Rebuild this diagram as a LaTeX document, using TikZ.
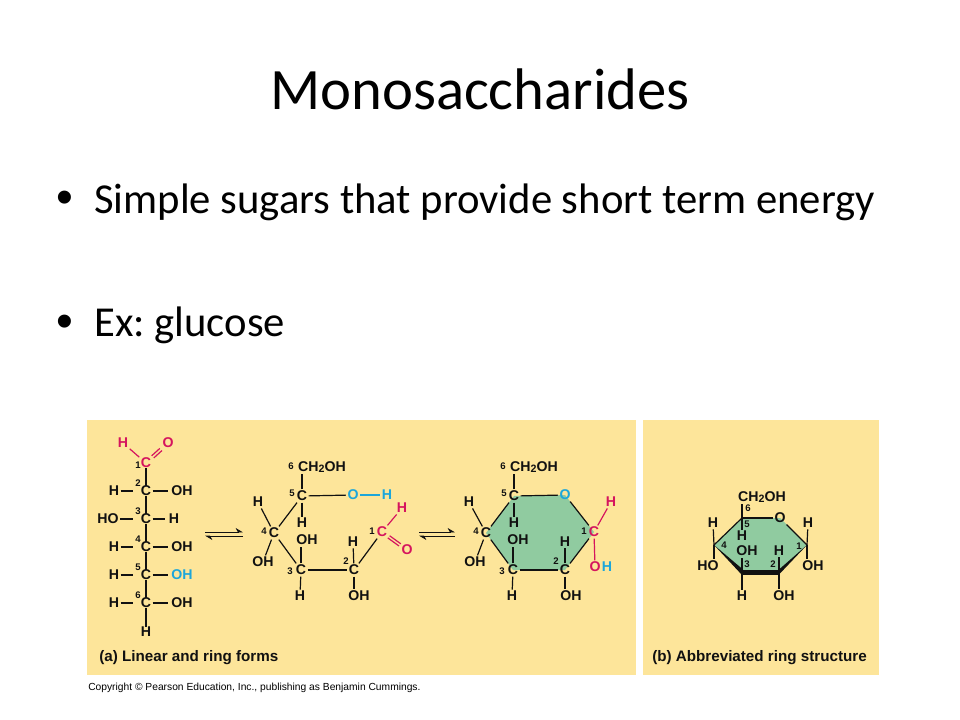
\documentclass[tikz,border=0pt]{standalone}
\usepackage{fontspec}
\setmainfont{Carlito}
\newfontfamily\chemfont{Liberation Sans}
\usetikzlibrary{arrows.meta,calc}
\definecolor{panelcol}{HTML}{FDE59A}
\definecolor{ringcol}{HTML}{90CBA0}
\definecolor{redcol}{HTML}{D5145E}
\definecolor{bluecol}{HTML}{1CA6DA}
\definecolor{inkcol}{HTML}{111111}
\newcommand{\At}[4]{\node[atom] (#1) at (#2,#3) {#4};}
\newcommand{\Nm}[4]{\node[numlab] (#1) at (#2,#3) {#4};}
\newcommand{\subn}[1]{\raisebox{-0.25ex}{\footnotesize #1}}
\tikzset{
  x=0.75pt,y=-0.75pt,
  atom/.style={font=\chemfont\bfseries\fontsize{10.6}{11}\selectfont,text=inkcol,inner sep=1pt},
  numlab/.style={font=\chemfont\bfseries\fontsize{7.2}{8}\selectfont,text=inkcol,inner sep=0pt},
  bond/.style={draw=inkcol,line width=0.9pt},
  redbond/.style={draw=redcol,line width=0.9pt},
  bluebond/.style={draw=bluecol,line width=0.9pt},
  panel/.style={fill=panelcol,draw=none},
  ringfill/.style={fill=ringcol,draw=none},
  titletext/.style={font=\fontsize{44}{48}\selectfont,text=black,inner sep=0,anchor=base},
  bodytext/.style={font=\fontsize{32}{36}\selectfont,text=black,inner sep=0,anchor=base west},
  bullettext/.style={font=\chemfont\fontsize{36}{40}\selectfont,text=black,inner sep=0,anchor=base west},
  caption/.style={font=\chemfont\bfseries\fontsize{11.4}{13}\selectfont,text=inkcol,inner sep=0,anchor=base west},
  copytext/.style={font=\chemfont\fontsize{7.7}{9}\selectfont,text=black,inner sep=0,anchor=base west},
  eq/.style={draw=inkcol,line width=0.6pt},
  eqtop/.style={eq,-{Stealth[harpoon,length=5pt,width=6pt]}},
  eqbot/.style={eq,-{Stealth[harpoon,length=5pt,width=6pt]}},
}
\begin{document}
\frenchspacing
\begin{tikzpicture}
\useasboundingbox (0,0) rectangle (960,720);
\fill[white] (0,0) rectangle (960,720);
\node[titletext] (title) at (480,110) {Monosaccharides};
\node[bullettext] (b1) at (56,214) {•};
\node[bodytext] (t1) at (94,214) {Simple sugars that provide short term energy};
\node[bullettext] (b2) at (56,337) {•};
\node[bodytext] (t2) at (94,336) {Ex: glucose};
\fill[panel] (87,420) rectangle (636,675);
\fill[panel] (643,420) rectangle (879,675);

% linear form
\node[atom,text=redcol] (aH) at (123,443) {H};
\node[atom,text=redcol] (aO) at (168,443) {O};
\node[atom,text=redcol] (a1) at (146,463) {C};
\At{a2}{146}{491}{C}\At{a3}{146}{519}{C}\At{a4}{146}{547}{C}\At{a5}{146}{575}{C}\At{a6}{146}{603}{C}
\Nm{n1}{138}{465}{1}\Nm{n2}{138}{483}{2}\Nm{n3}{138}{511}{3}\Nm{n4}{138}{539}{4}\Nm{n5}{138}{567}{5}\Nm{n6}{138}{595}{6}
\At{a2l}{114}{491}{H}\At{a2r}{182}{491}{OH}
\At{a3l}{108}{519}{HO}\At{a3r}{174}{519}{H}
\At{a4l}{114}{547}{H}\At{a4r}{182}{547}{OH}
\At{a5l}{114}{575}{H}\node[atom,text=bluecol] (a5r) at (182,575) {OH};
\At{a6l}{114}{603}{H}\At{a6r}{182}{603}{OH}
\At{a7}{146}{632}{H}
\draw[redbond] (aH) -- (a1);
\draw[redbond,transform canvas={xshift=-0.8pt,yshift=0.8pt}] (a1) -- (aO);
\draw[redbond,transform canvas={xshift=0.8pt,yshift=-0.8pt}] (a1) -- (aO);
\foreach \p/\q in {a1/a2,a2/a3,a3/a4,a4/a5,a5/a6,a6/a7}
  \draw[bond,shorten <=-1pt,shorten >=-1pt] (\p) -- (\q);
\foreach \p/\q in {a2/a2r,a3/a3r,a4/a4r,a5/a5r,a6/a6r}
  \draw[bond,shorten >=1.5pt] (\p) -- (\q);
\foreach \p/\q in {a2l/a2,a3l/a3,a4l/a4,a5l/a5,a6l/a6}
  \draw[bond,shorten >=4.5pt] (\p) -- (\q);

% equilibrium arrows
\coordinate (e1a) at (205,532);\coordinate (e1b) at (243,532);
\coordinate (e1c) at (243,536);\coordinate (e1d) at (205,536);
\draw[eqtop] (e1a) -- (e1b);\draw[eqbot] (e1c) -- (e1d);
\coordinate (e2a) at (419,532);\coordinate (e2b) at (455,532);
\coordinate (e2c) at (455,536);\coordinate (e2d) at (419,536);
\draw[eqtop] (e2a) -- (e2b);\draw[eqbot] (e2c) -- (e2d);

% open ring form
\At{b6}{322}{467}{CH\subn{2}OH}\Nm{bn6}{291}{466}{6}
\At{b5}{302}{496}{C}\Nm{bn5}{292}{493}{5}
\node[atom,text=bluecol] (bO) at (353,495) {O};
\node[atom,text=bluecol] (bOH) at (387,495) {H};
\At{b4H}{258}{502}{H}\At{b4}{274}{533}{C}\Nm{bn4}{264}{531}{4}\At{b4O}{263}{562}{OH}
\At{b5H}{302}{523}{H}
\At{b3O}{307}{540}{OH}\At{b3}{301}{570}{C}\Nm{bn3}{290}{571}{3}\At{b3H}{300}{596}{H}
\At{b2}{354}{570}{C}\Nm{bn2}{346}{561}{2}\At{b2H}{353}{542}{H}\At{b2O}{359}{596}{OH}
\node[atom,text=redcol] (b1a) at (382,532) {C};\Nm{bn1}{372}{531}{1}
\node[atom,text=redcol] (b1H) at (402,508) {H};
\node[atom,text=redcol] (b1O) at (407,550) {O};
\draw[bond] (b5) -- (b5 |- b6.south);
\draw[bond] (b5) -- (bO);
\draw[bluebond] (bO) -- (bOH);
\draw[bond] (b5) -- (b4);
\draw[bond] (b4H) -- (b4);
\draw[bond] (b4) -- (b4O);
\draw[bond] (b5) -- (b5H);
\draw[bond] (b4) -- (b3);
\draw[bond] (b3) -- (b3 |- b3O.south);
\draw[bond] (b3) -- (b3H);
\draw[bond] (b3) -- (b2);
\draw[bond] (b2) -- (b2H);
\draw[bond] (b2) -- (b2 |- b2O.north);
\draw[bond] (b2) -- (b1a);
\draw[redbond] (b1a) -- (b1H);
\draw[redbond,transform canvas={xshift=0.7pt,yshift=0.8pt}] (b1a) -- (b1O);
\draw[redbond,transform canvas={xshift=-0.7pt,yshift=-0.8pt}] (b1a) -- (b1O);

% closed ring form
\fill[ringfill] (514,496) -- (565,495) -- (594,532) -- (565,570) -- (513,570) -- (486,533) -- cycle;
\At{c6}{534}{467}{CH\subn{2}OH}\Nm{cn6}{503}{466}{6}
\At{c5}{514}{496}{C}\Nm{cn5}{504}{493}{5}
\node[atom,text=bluecol] (cO) at (565,495) {O};
\At{c4H}{469}{502}{H}\At{c4}{486}{533}{C}\Nm{cn4}{476}{531}{4}\At{c4O}{475}{562}{OH}
\At{c5H}{514}{523}{H}
\At{c3O}{518}{540}{OH}\At{c3}{513}{570}{C}\Nm{cn3}{502}{571}{3}\At{c3H}{512}{596}{H}
\At{c2}{565}{570}{C}\Nm{cn2}{556}{561}{2}\At{c2H}{565}{542}{H}\At{c2O}{571}{596}{OH}
\node[atom,text=redcol] (c1) at (594,532) {C};\Nm{cn1}{584}{531}{1}
\node[atom,text=redcol] (c1H) at (611,502) {H};
\node[atom,text=redcol] (c1O) at (595,567) {O};
\node[atom,text=bluecol] (c1Hb) at (607,567) {H};
\draw[bond] (c5) -- (c5 |- c6.south);
\draw[bond] (c5) -- (cO);
\draw[bond] (cO) -- (c1);
\draw[bond] (c5) -- (c4);
\draw[bond] (c4H) -- (c4);
\draw[bond] (c4) -- (c4O);
\draw[bond] (c5) -- (c5H);
\draw[bond] (c4) -- (c3);
\draw[bond] (c3) -- (c3 |- c3O.south);
\draw[bond] (c3) -- (c3H);
\draw[bond] (c3) -- (c2);
\draw[bond] (c2) -- (c2H);
\draw[bond] (c2) -- (c2 |- c2O.north);
\draw[bond] (c2) -- (c1);
\draw[redbond] (c1) -- (c1H);
\draw[redbond] (c1) -- (c1O);

% abbreviated ring
\coordinate (r5) at (742,518);\coordinate (r1) at (807,545);
\coordinate (r2) at (779,572);\coordinate (r3) at (742,572);\coordinate (r4) at (714,545);
\coordinate (rOc) at (780,518);
\fill[ringfill] (r5) -- (rOc) -- (r1) -- (r2) -- (r3) -- (r4) -- cycle;
\At{rO}{780}{518}{O}
\At{r6}{762}{497}{CH\subn{2}OH}
\node[numlab] (rn6) at (748,508) {6};\node[numlab] (rn5) at (747,524) {5};
\node[numlab] (rn4) at (724,545) {4};\node[numlab] (rn3) at (747,564) {3};
\node[numlab] (rn2) at (773,564) {2};\node[numlab] (rn1) at (799,546) {1};
\At{r4H}{713}{523}{H}\At{r4O}{708}{566}{HO}
\At{r5H}{742}{536}{H}\At{r3O}{747}{551}{OH}
\At{r2H}{779}{551}{H}
\At{r1H}{808}{523}{H}\At{r1O}{813}{566}{OH}
\At{r3H}{742}{596}{H}\At{r2O}{784}{596}{OH}
\draw[bond] (r5) -- (r5 |- r6.south);
\draw[bond] (r5) -- (rO);
\draw[bond] (rO) -- (r1);
\draw[bond] (r5) -- (r4);
\fill[inkcol] (r4) -- ($(r3)+(1,-2.5)$) -- ($(r3)+(0,3)$) -- cycle;
\fill[inkcol] ($(r3)+(0,-2.5)$) rectangle ($(r2)+(0,2.5)$);
\fill[inkcol] (r1) -- ($(r2)+(0,-2.5)$) -- ($(r2)+(0,2.5)$) -- cycle;
\draw[bond] (r4) -- (r4H);
\draw[bond] (r4) -- (r4 |- r4O.north);
\draw[bond] (r5) -- (r5H);
\draw[bond] (r3) -- (r3 |- r3O.south);
\draw[bond] (r3) -- (r3H);
\draw[bond] (r2) -- (r2H);
\draw[bond] (r2) -- (r2 |- r2O.north);
\draw[bond] (r1) -- (r1H);
\draw[bond] (r1) -- (r1 |- r1O.north);

\node[caption] (capa) at (99,661) {(a) Linear and ring forms};
\node[caption] (capb) at (652,661) {(b) Abbreviated ring structure};
\node[copytext] (copy) at (88,690) {Copyright © Pearson Education, Inc., publishing as Benjamin Cummings.};
\end{tikzpicture}
\end{document}
